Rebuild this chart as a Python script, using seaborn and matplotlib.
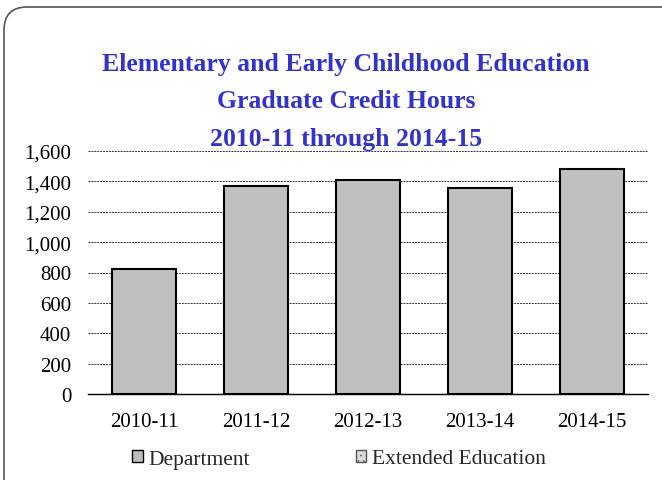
import matplotlib
matplotlib.use('Agg')
import matplotlib.pyplot as plt
import seaborn as sns
import pandas as pd
from matplotlib.patches import FancyBboxPatch, Patch

# Data
years = ['2010-11', '2011-12', '2012-13', '2013-14', '2014-15']
department = [825, 1372, 1409, 1355, 1481]
extended = [0, 0, 0, 0, 0]
y_ticks = [0, 200, 400, 600, 800, 1000, 1200, 1400, 1600]

sns.set_theme(style='white')
plt.rcParams['font.family'] = ['Liberation Serif', 'DejaVu Serif']
plt.rcParams['hatch.linewidth'] = 0.4

df = pd.DataFrame({'year': years, 'Department': department, 'Extended': extended})

fig = plt.figure(figsize=(6.62, 4.81), dpi=100)
ax = fig.add_axes([88 / 662, 1 - 395 / 481, 560 / 662, 243 / 481])

sns.barplot(data=df, x='year', y='Department', color='#C0C0C0', saturation=1,
            edgecolor='black', linewidth=1.5, width=0.57, ax=ax, zorder=3)
# Extended Education stacked on top (all zero)
ax.bar(range(len(years)), df['Extended'], bottom=df['Department'], width=0.57,
       color='#E0E0E0', hatch='....', linewidth=0, zorder=3)

ax.set_ylim(0, 1600)
ax.set_xlim(-0.5, len(years) - 0.5)
ax.set_yticks(y_ticks)
ax.set_yticklabels([f'{v:,}' for v in y_ticks])
ax.set_xlabel('')
ax.set_ylabel('')
ax.tick_params(axis='both', labelsize=15, colors='black', length=0)
ax.tick_params(axis='x', pad=13)
ax.tick_params(axis='y', pad=12)
ax.yaxis.grid(True, color='#333333', linewidth=0.7, linestyle=(0, (2, 1)), zorder=0)
ax.xaxis.grid(False)
for s in ['left', 'right', 'top']:
    ax.spines[s].set_visible(False)
ax.spines['bottom'].set_color('black')
ax.spines['bottom'].set_linewidth(1.0)
ax.set_facecolor('none')

# Title
fig.text(346 / 662, 1 - 102 / 481,
         'Elementary and Early Childhood Education\nGraduate Credit Hours\n2010-11 through 2014-15',
         ha='center', va='center', fontsize=18.5, fontweight='bold', color='#3333CC',
         linespacing=1.8)

# Legend
handles = [Patch(facecolor='#BDBDBD', edgecolor='black', linewidth=1.0, label='Department'),
           Patch(facecolor='#DCDCDC', edgecolor='#555555', linewidth=1.0, hatch='...',
                 label='Extended Education')]
fig.legend(handles=handles, loc='center', bbox_to_anchor=(339 / 662, 1 - 460 / 481),
           ncol=2, frameon=False, fontsize=15.5, handlelength=0.5, handleheight=0.5,
           handletextpad=0.25, columnspacing=4.9)

# Rounded outer border
border = FancyBboxPatch((4 / 662, -0.1), 1.1, 1.1 - 8 / 481,
                        boxstyle='round,pad=0,rounding_size=0.035',
                        mutation_aspect=662 / 481,
                        transform=fig.transFigure, facecolor='none',
                        edgecolor='#555555', linewidth=1.2)
fig.patches.append(border)

fig.savefig('out.png', dpi=100)
